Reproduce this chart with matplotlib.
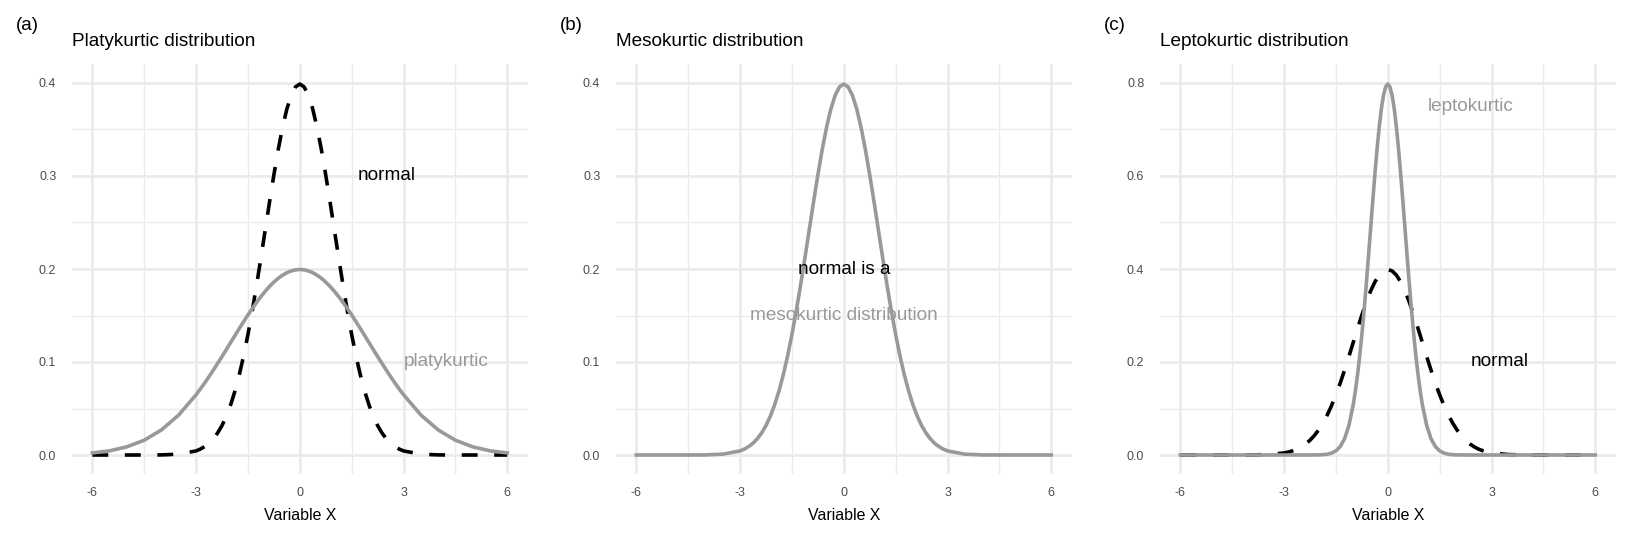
import matplotlib
matplotlib.use("Agg")
import matplotlib.pyplot as plt

plt.rcParams['font.family'] = ['Liberation Sans', 'DejaVu Sans']

# ---------------- data (density values) ----------------
x_vals = [-6.0, -5.5, -5.0, -4.5, -4.0, -3.5,
          -3.0, -2.875, -2.75, -2.625, -2.5, -2.375, -2.25, -2.125,
          -2.0, -1.875, -1.75, -1.625, -1.5, -1.375, -1.25, -1.125,
          -1.0, -0.875, -0.75, -0.625, -0.5, -0.375, -0.25, -0.125,
          0.0,
          0.125, 0.25, 0.375, 0.5, 0.625, 0.75, 0.875, 1.0,
          1.125, 1.25, 1.375, 1.5, 1.625, 1.75, 1.875, 2.0,
          2.125, 2.25, 2.375, 2.5, 2.625, 2.75, 2.875, 3.0,
          3.5, 4.0, 4.5, 5.0, 5.5, 6.0]

normal_y = [0.0000, 0.0000, 0.0000, 0.0000, 0.0001, 0.0009,
            0.0044, 0.0064, 0.0091, 0.0127, 0.0175, 0.0238, 0.0317, 0.0417,
            0.0540, 0.0688, 0.0863, 0.1065, 0.1295, 0.1550, 0.1826, 0.2119,
            0.2420, 0.2721, 0.3011, 0.3282, 0.3521, 0.3719, 0.3867, 0.3958,
            0.3989,
            0.3958, 0.3867, 0.3719, 0.3521, 0.3282, 0.3011, 0.2721, 0.2420,
            0.2119, 0.1826, 0.1550, 0.1295, 0.1065, 0.0863, 0.0688, 0.0540,
            0.0417, 0.0317, 0.0238, 0.0175, 0.0127, 0.0091, 0.0064, 0.0044,
            0.0009, 0.0001, 0.0000, 0.0000, 0.0000, 0.0000]

platy_y = [0.0022, 0.0045, 0.0088, 0.0159, 0.0270, 0.0431,
           0.0648, 0.0710, 0.0775, 0.0843, 0.0913, 0.0986, 0.1059, 0.1134,
           0.1210, 0.1285, 0.1360, 0.1434, 0.1506, 0.1575, 0.1641, 0.1703,
           0.1760, 0.1813, 0.1859, 0.1900, 0.1933, 0.1960, 0.1979, 0.1991,
           0.1995,
           0.1991, 0.1979, 0.1960, 0.1933, 0.1900, 0.1859, 0.1813, 0.1760,
           0.1703, 0.1641, 0.1575, 0.1506, 0.1434, 0.1360, 0.1285, 0.1210,
           0.1134, 0.1059, 0.0986, 0.0913, 0.0843, 0.0775, 0.0710, 0.0648,
           0.0431, 0.0270, 0.0159, 0.0088, 0.0045, 0.0022]

lepto_x = [-6.0, -5.0, -4.0, -3.0, -2.5, -2.25,
           -2.0, -1.875, -1.75, -1.625, -1.5, -1.375, -1.25, -1.125,
           -1.0, -0.9375, -0.875, -0.8125, -0.75, -0.6875, -0.625, -0.5625,
           -0.5, -0.4375, -0.375, -0.3125, -0.25, -0.1875, -0.125, -0.0625,
           0.0,
           0.0625, 0.125, 0.1875, 0.25, 0.3125, 0.375, 0.4375, 0.5,
           0.5625, 0.625, 0.6875, 0.75, 0.8125, 0.875, 0.9375, 1.0,
           1.125, 1.25, 1.375, 1.5, 1.625, 1.75, 1.875, 2.0,
           2.25, 2.5, 3.0, 4.0, 5.0, 6.0]

lepto_y = [0.0000, 0.0000, 0.0000, 0.0000, 0.0000, 0.0000,
           0.0003, 0.0007, 0.0017, 0.0041, 0.0089, 0.0182, 0.0350, 0.0635,
           0.1080, 0.1376, 0.1726, 0.2130, 0.2590, 0.3100, 0.3652, 0.4238,
           0.4839, 0.5442, 0.6022, 0.6564, 0.7041, 0.7438, 0.7734, 0.7916,
           0.7979,
           0.7916, 0.7734, 0.7438, 0.7041, 0.6564, 0.6022, 0.5442, 0.4839,
           0.4238, 0.3652, 0.3100, 0.2590, 0.2130, 0.1726, 0.1376, 0.1080,
           0.0635, 0.0350, 0.0182, 0.0089, 0.0041, 0.0017, 0.0007, 0.0003,
           0.0000, 0.0000, 0.0000, 0.0000, 0.0000, 0.0000]

x_ticks = [-6, -3, 0, 3, 6]
x_tick_labels = ["-6", "-3", "0", "3", "6"]
y_ticks_ab = [0.0, 0.1, 0.2, 0.3, 0.4]
y_tick_labels_ab = ["0.0", "0.1", "0.2", "0.3", "0.4"]
y_ticks_c = [0.0, 0.2, 0.4, 0.6, 0.8]
y_tick_labels_c = ["0.0", "0.2", "0.4", "0.6", "0.8"]

titles = ["Platykurtic distribution", "Mesokurtic distribution", "Leptokurtic distribution"]
tags = ["(a)", "(b)", "(c)"]
x_label = "Variable X"

# annotation texts and positions
ann_a = [("normal", 2.5, 0.30, "black"), ("platykurtic", 4.25, 0.10, "grey")]
ann_b = [("normal is a", 0.0, 0.20, "black"), ("mesokurtic distribution", 0.0, 0.15, "grey")]
ann_c = [("leptokurtic", 2.4, 0.75, "grey"), ("normal", 3.25, 0.20, "black")]

# ---------------- styling ----------------
GREY = "#999999"
GRID = "#EBEBEB"
TICKC = "#4D4D4D"
W, H = 1632, 537
fig = plt.figure(figsize=(W / 100, H / 100), dpi=100)

col_w = W / 3
pl, pr = 71.6, 528.0
pt_, pb = 64.4, 473.6


def make_ax(i, ylim, yticks, yticklabels, yminor):
    left = (col_w * i + pl) / W
    ax = fig.add_axes([left, 1 - pb / H, (pr - pl) / W, (pb - pt_) / H])
    ax.set_xlim(-6.6, 6.6)
    ax.set_ylim(*ylim)
    ax.set_xticks(x_ticks)
    ax.set_xticklabels(x_tick_labels)
    ax.set_xticks([-4.5, -1.5, 1.5, 4.5], minor=True)
    ax.set_yticks(yticks)
    ax.set_yticklabels(yticklabels)
    ax.set_yticks(yminor, minor=True)
    for s in ax.spines.values():
        s.set_visible(False)
    ax.grid(True, which='major', color=GRID, linewidth=2.0, zorder=0)
    ax.grid(True, which='minor', color=GRID, linewidth=1.0, zorder=0)
    ax.set_axisbelow(True)
    ax.tick_params(which='both', length=0, colors=TICKC, labelsize=9)
    ax.tick_params(axis='x', pad=10)
    ax.tick_params(axis='y', pad=11)
    ax.set_xlabel(x_label, fontsize=11.4, color='black', labelpad=6)
    fig.text((col_w * i + pl) / W, 1 - 46 / H, titles[i], fontsize=13.7,
             ha='left', va='baseline', color='black')
    fig.text((col_w * i + 16) / W, 1 - 25.5 / H, tags[i], fontsize=13.5,
             ha='left', va='center', color='black')
    return ax


def annotate(ax, anns):
    for txt, xx, yy, c in anns:
        ax.text(xx, yy, txt, ha='center', va='center', fontsize=13.7,
                color=(GREY if c == "grey" else "black"), zorder=5)


LW = 2.6
ax1 = make_ax(0, (-0.02, 0.42), y_ticks_ab, y_tick_labels_ab, [0.05, 0.15, 0.25, 0.35])
ax1.plot(x_vals, normal_y, color='black', linewidth=LW, dashes=(4.4, 4.6), zorder=2)
ax1.plot(x_vals, platy_y, color=GREY, linewidth=LW, zorder=3)
annotate(ax1, ann_a)

ax2 = make_ax(1, (-0.02, 0.42), y_ticks_ab, y_tick_labels_ab, [0.05, 0.15, 0.25, 0.35])
ax2.plot(x_vals, normal_y, color=GREY, linewidth=LW, zorder=3)
annotate(ax2, ann_b)

ax3 = make_ax(2, (-0.04, 0.84), y_ticks_c, y_tick_labels_c, [0.1, 0.3, 0.5, 0.7])
ax3.plot(x_vals, normal_y, color='black', linewidth=LW, dashes=(4.4, 4.6), zorder=2)
ax3.plot(lepto_x, lepto_y, color=GREY, linewidth=LW, zorder=3)
annotate(ax3, ann_c)

fig.savefig("out.png", dpi=100, facecolor='white')
